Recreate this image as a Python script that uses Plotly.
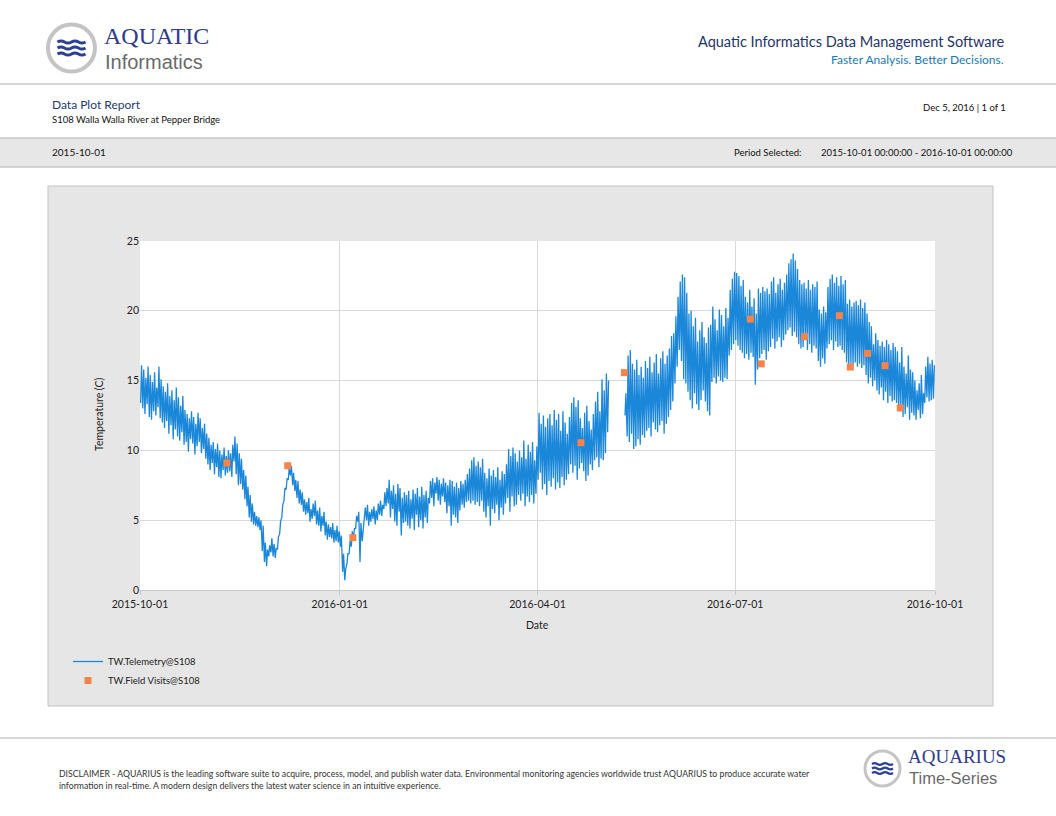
import pandas as pd
import plotly.graph_objects as go

W, H = 1056, 816


def fx(x):
    return x / W


def fy(y):
    return 1 - y / H


# daily low / high water temperature (C)
oct_low = [13.4, 13.0, 12.6, 13.3, 12.4, 12.2, 12.8, 12.5, 13.1, 12.3, 12.0, 11.6, 12.1, 11.2, 11.8, 10.8,
           11.5, 11.0, 10.7, 11.3, 10.4, 10.6, 9.9, 10.8, 10.5, 9.7, 10.3, 10.6, 9.8, 10.1, 9.4]
oct_high = [16.1, 15.8, 15.2, 16.0, 15.4, 14.9, 15.6, 14.5, 16.0, 15.1, 14.6, 14.2, 14.8, 13.9, 14.3, 13.6,
            14.5, 13.8, 13.2, 13.9, 12.9, 12.6, 12.3, 12.8, 12.4, 11.9, 12.7, 12.3, 11.6, 11.9, 11.2]
nov_low = [9.0, 8.6, 9.1, 8.3, 8.8, 8.1, 8.0, 8.6, 8.2, 8.4, 8.5, 8.1, 9.2, 8.3, 7.5, 7.6, 7.2, 6.5, 6.0, 5.2,
           4.9, 4.7, 4.6, 4.5, 4.3, 2.8, 2.0, 1.7, 2.4, 2.7]
nov_high = [10.9, 10.4, 10.6, 10.1, 10.5, 10.0, 9.7, 10.2, 9.6, 10.0, 9.8, 10.4, 11.0, 10.5, 9.8, 9.4, 8.6,
            8.2, 7.4, 6.8, 6.2, 5.6, 5.3, 5.2, 5.0, 4.6, 3.4, 2.9, 3.2, 3.7]
dec_low = [2.4, 2.3, 2.9, 4.0, 5.2, 6.4, 7.2, 7.9, 8.2, 7.5, 7.1, 6.6, 6.2, 6.1, 5.6, 5.4, 5.5, 4.9, 5.1, 5.3,
           4.7, 4.6, 4.2, 4.6, 3.9, 3.6, 3.8, 3.7, 3.4, 3.5, 3.4]
dec_high = [3.3, 3.0, 3.8, 4.9, 6.1, 7.3, 8.0, 8.8, 8.9, 8.4, 7.9, 7.8, 7.2, 7.0, 6.5, 6.3, 6.6, 5.8, 6.2, 6.4,
            5.7, 5.9, 5.3, 5.6, 4.9, 4.7, 4.5, 4.8, 4.3, 4.6, 4.2]
jan_low = [3.1, 1.3, 0.7, 1.9, 2.6, 3.1, 3.7, 4.4, 4.9, 2.0, 3.5, 4.8, 5.0, 4.6, 4.9, 5.1, 4.7, 5.0, 5.4, 5.3,
           5.8, 6.0, 6.2, 5.2, 5.8, 4.9, 4.6, 5.6, 3.9, 4.8, 4.9]
jan_high = [3.9, 2.6, 1.5, 2.6, 3.5, 4.2, 4.4, 5.3, 5.6, 4.8, 4.2, 5.9, 6.1, 5.6, 5.8, 6.0, 5.7, 6.2, 6.4, 6.1,
            7.0, 7.3, 7.9, 7.1, 7.5, 6.9, 7.6, 7.3, 6.6, 7.0, 6.8]
feb_low = [4.6, 4.4, 5.1, 4.3, 5.4, 4.5, 5.0, 4.4, 5.2, 4.8, 6.2, 6.6, 6.0, 6.9, 6.4, 6.1, 6.7, 6.3, 5.5, 6.0,
           4.6, 5.4, 5.2, 4.8, 5.7, 6.1, 5.9, 6.3, 6.4]
feb_high = [7.1, 6.5, 7.2, 6.9, 7.3, 6.7, 7.4, 6.8, 7.1, 6.6, 7.8, 8.0, 7.7, 8.1, 7.9, 7.6, 8.0, 7.7, 7.5, 7.9,
            7.8, 7.4, 7.7, 7.3, 7.8, 7.6, 7.9, 8.3, 8.7]
mar_low = [6.2, 6.4, 6.1, 6.3, 6.0, 6.4, 5.6, 5.2, 6.0, 4.6, 5.8, 5.5, 6.1, 5.0, 5.9, 5.4, 6.2, 6.6, 5.6, 6.7,
           6.0, 6.1, 6.8, 6.4, 6.9, 6.0, 6.7, 6.3, 6.8, 6.2, 6.9]
mar_high = [9.3, 9.5, 8.9, 9.2, 8.8, 9.4, 8.4, 8.0, 8.7, 8.2, 8.6, 8.1, 8.8, 7.9, 8.5, 8.3, 9.0, 10.1, 9.6,
            10.2, 9.8, 9.2, 10.0, 9.5, 10.7, 9.4, 10.4, 9.9, 10.6, 9.3, 10.3]
apr_low = [7.9, 8.4, 7.2, 7.6, 6.8, 7.8, 7.4, 8.0, 7.2, 7.7, 7.3, 8.1, 7.5, 7.9, 8.3, 9.0, 8.4, 8.9, 7.9, 8.7,
           9.1, 8.5, 7.8, 8.2, 9.0, 8.6, 9.3, 9.5, 8.8, 9.4]
apr_high = [12.7, 11.9, 12.5, 11.7, 12.3, 12.6, 11.8, 12.9, 12.2, 12.6, 11.4, 12.8, 12.0, 11.2, 12.4, 13.4,
            13.8, 13.1, 13.6, 12.3, 11.6, 12.7, 13.2, 12.1, 11.5, 12.6, 13.5, 14.2, 12.8, 15.1]
may_low = [9.3, 9.8, 11.3, None, None, None, None, None, None, None, 12.5, 11.0, 10.6, 11.2, 10.1, 10.3, 10.8,
           10.4, 11.1, 10.9, 11.4, 11.6, 11.0, 12.0, 11.5, 11.3, 11.8, 12.1, 11.2, 11.9, 12.4]
may_high = [14.3, 15.5, 15.0, None, None, None, None, None, None, None, 14.1, 16.8, 17.2, 16.2, 15.8, 16.5,
            15.4, 16.0, 15.2, 16.4, 15.9, 16.7, 15.6, 16.3, 16.9, 15.5, 16.6, 17.1, 16.2, 16.8, 17.3]
jun_low = [12.9, 13.5, 14.8, 16.0, 17.2, 16.4, 15.1, 14.8, 14.2, 13.6, 13.0, 14.1, 13.3, 12.9, 13.6, 14.3,
           13.5, 12.8, 12.5, 14.9, 15.2, 14.8, 15.3, 15.0, 14.9, 15.2, 15.1, 16.8, 17.2, 17.6]
jun_high = [18.2, 18.4, 19.6, 21.0, 22.1, 22.6, 22.4, 21.3, 19.8, 20.0, 18.9, 19.5, 17.8, 18.6, 19.2, 18.1,
            17.7, 18.8, 19.0, 20.3, 19.4, 18.6, 20.1, 19.7, 18.9, 20.2, 19.5, 21.5, 22.3, 22.8]
jul_low = [17.9, 17.5, 17.2, 17.0, 16.6, 16.9, 16.5, 17.0, 16.7, 14.7, 15.8, 16.6, 16.9, 17.2, 16.5, 17.1,
           17.4, 18.0, 17.3, 17.8, 18.1, 17.4, 17.9, 18.3, 18.6, 18.8, 18.2, 18.5, 18.1, 17.6, 17.3]
jul_high = [22.7, 22.5, 21.8, 22.2, 21.0, 20.6, 21.5, 20.3, 20.9, 19.8, 21.6, 21.3, 21.7, 21.4, 21.6, 21.2,
            22.1, 22.4, 21.3, 21.9, 22.3, 21.5, 22.0, 22.6, 23.4, 23.7, 24.1, 23.6, 23.0, 22.2, 21.9]
aug_low = [17.4, 17.9, 17.2, 17.6, 17.0, 17.5, 17.3, 16.4, 16.0, 16.6, 16.2, 17.3, 17.6, 17.9, 17.2, 17.8,
           17.4, 17.5, 17.2, 17.0, 16.3, 16.0, 16.2, 16.1, 16.3, 16.0, 16.2, 15.9, 16.1, 15.4, 14.8]
aug_high = [22.0, 21.6, 22.2, 21.5, 21.9, 21.7, 22.1, 20.1, 19.8, 20.3, 19.9, 21.7, 22.3, 22.6, 22.0, 22.4,
            21.8, 22.5, 21.9, 22.2, 20.5, 20.8, 20.3, 20.6, 20.7, 20.4, 20.8, 20.2, 20.6, 19.8, 19.2]
sep_low = [15.2, 14.6, 15.0, 14.3, 14.0, 14.5, 13.6, 14.2, 13.4, 13.9, 13.5, 13.6, 13.4, 12.8, 13.2, 12.4,
           12.6, 13.1, 12.2, 12.7, 12.5, 12.2, 12.9, 12.3, 12.6, 13.4, 13.8, 13.5, 13.6, 13.7]
sep_high = [18.9, 17.6, 18.4, 17.9, 17.5, 17.8, 17.4, 17.9, 17.6, 17.2, 17.7, 17.4, 17.1, 16.3, 17.4, 16.0,
            15.5, 16.8, 15.8, 15.6, 15.0, 14.3, 14.8, 15.4, 14.1, 16.0, 16.7, 16.2, 16.5, 16.1]

visit_dates = ["2015-11-10", "2015-12-08", "2016-01-07", "2016-04-21", "2016-05-11", "2016-07-08",
               "2016-07-13", "2016-08-02", "2016-08-18", "2016-08-23", "2016-08-31", "2016-09-08",
               "2016-09-15"]
visit_values = [9.1, 8.9, 3.75, 10.55, 15.57, 19.4, 16.2, 18.15, 19.65, 15.97, 16.95, 16.07, 13.04]

x_ticks = ["2015-10-01", "2016-01-01", "2016-04-01", "2016-07-01", "2016-10-01"]
y_ticks = [0, 5, 10, 15, 20, 25]

daily_low = (oct_low + nov_low + dec_low + jan_low + feb_low + mar_low + apr_low + may_low + jun_low
             + jul_low + aug_low + sep_low)
daily_high = (oct_high + nov_high + dec_high + jan_high + feb_high + mar_high + apr_high + may_high
              + jun_high + jul_high + aug_high + sep_high)
days = pd.date_range("2015-10-01", "2016-09-30", freq="D")
assert len(daily_low) == len(days) == len(daily_high), (len(daily_low), len(daily_high), len(days))

tele_x, tele_y = [], []
for d, lo, hi in zip(days, daily_low, daily_high):
    tele_x += [d + pd.Timedelta(hours=7), d + pd.Timedelta(hours=17)]
    tele_y += [lo, hi]

FONT = "Lato"
BLUE = "#1b87d9"
ORANGE = "#f5834a"

fig = go.Figure()
fig.add_trace(go.Scatter(x=tele_x, y=tele_y, mode="lines", name="TW.Telemetry@S108",
                         line=dict(color=BLUE, width=1.3), connectgaps=False))
fig.add_trace(go.Scatter(x=visit_dates, y=visit_values, mode="markers", name="TW.Field Visits@S108",
                         marker=dict(color=ORANGE, symbol="square", size=7)))

shapes = []


def rect(x0, y0, x1, y1, fill, line="rgba(0,0,0,0)", lw=1):
    shapes.append(dict(type="rect", xref="paper", yref="paper", x0=fx(x0), x1=fx(x1), y0=fy(y1), y1=fy(y0),
                       fillcolor=fill, line=dict(color=line, width=lw), layer="below"))


def hline(y, x0=0, x1=W, color="#c8c8c8", lw=1.5):
    shapes.append(dict(type="line", xref="paper", yref="paper", x0=fx(x0), x1=fx(x1), y0=fy(y), y1=fy(y),
                       line=dict(color=color, width=lw), layer="below"))


def logo(cx, cy, r, scale):
    shapes.append(dict(type="circle", xref="paper", yref="paper", x0=fx(cx - r), x1=fx(cx + r),
                       y0=fy(cy + r), y1=fy(cy - r), fillcolor="white",
                       line=dict(color="#c4c4c4", width=4 * scale), layer="below"))
    half = 14 * scale
    step = half / 2
    for off in (-6, 0, 6):
        yc = cy + off * scale
        a = 2.2 * scale
        x0 = cx - half
        p = f"M {fx(x0)},{fy(yc)} Q {fx(x0 + step / 2)},{fy(yc - a)} {fx(x0 + step)},{fy(yc)}"
        for k in range(2, 5):
            p += f" T {fx(x0 + step * k)},{fy(yc)}"
        shapes.append(dict(type="path", xref="paper", yref="paper", path=p,
                           line=dict(color="#2b3f99", width=3 * scale), layer="below"))


# page furniture
hline(84)
rect(-2, 138, W + 2, 167, "#e7e7e7", "#c8c8c8", 1.5)
rect(48, 186, 993, 706, "#e6e6e6", "#c2c2c2", 1)
rect(140, 241, 935, 590, "white")
hline(738)
logo(71.5, 48, 23.5, 1.0)
logo(882.5, 768.5, 17.5, 0.75)

ann = []


def text(x, y, s, size, color="#222", anchor="left", family=FONT, valign="middle", **kw):
    ann.append(dict(x=fx(x), y=fy(y), xref="paper", yref="paper", text=s, showarrow=False,
                    xanchor=anchor, yanchor=valign, font=dict(size=size, color=color, family=family), **kw))


# logo wordmarks: top word sits on the split line, bottom word hangs from it
text(103, 49.5, "AQUATIC", 24, "#2e3c8e", family="Liberation Serif", valign="bottom", borderpad=0)
text(104, 49.5, "Informatics", 20, "#6a6a6a", family="Liberation Sans", valign="top", borderpad=0)
text(907, 768, "AQUARIUS", 19, "#2e3c8e", family="Liberation Serif", valign="bottom", borderpad=0)
text(908, 768, "Time-Series", 16.5, "#6a6a6a", family="Liberation Sans", valign="top", borderpad=0)

text(1006, 41, "Aquatic Informatics Data Management Software", 14.5, "#24356a", "right")
text(1006, 60, "Faster Analysis. Better Decisions.", 12, "#1a78b4", "right")
text(50, 104, "Data Plot Report", 12, "#1e3a70")
text(50, 119, "S108 Walla Walla River at Pepper Bridge", 9.5, "#111")
text(1008, 108, "Dec 5, 2016 | 1 of 1", 9.5, "#111", "right")
text(50, 152, "2015-10-01", 10, "#111")
text(803, 152, "Period Selected:", 9.5, "#111", "right")
text(1015, 152, "2015-10-01 00:00:00 - 2016-10-01 00:00:00", 9.5, "#111", "right")
text(537, 625, "Date", 10.5, "#222", "center")
text(99, 415, "Temperature (C)", 10.5, "#222", "center", textangle=-90)
text(57, 773, "DISCLAIMER - AQUARIUS is the leading software suite to acquire, process, model, and publish water "
     "data. Environmental monitoring agencies worldwide trust AQUARIUS to produce accurate water", 8.7, "#333")
text(57, 785, "information in real-time. A modern design delivers the latest water science in an intuitive "
     "experience.", 8.7, "#333")

fig.update_layout(
    width=W, height=H,
    margin=dict(l=0, r=0, t=0, b=0),
    paper_bgcolor="white",
    plot_bgcolor="rgba(0,0,0,0)",
    font=dict(family=FONT, size=10, color="#222"),
    shapes=shapes,
    annotations=ann,
    xaxis=dict(domain=[fx(140), fx(935)], type="date", range=["2015-10-01", "2016-10-01"],
               tickvals=x_ticks, ticktext=x_ticks, showgrid=True, gridcolor="#d9d9d9", gridwidth=1,
               showline=True, linecolor="#c8c8c8", ticks="outside", ticklen=4, tickcolor="#c8c8c8",
               zeroline=False, tickfont=dict(size=10.5, color="#222"), automargin=False),
    yaxis=dict(domain=[fy(590), fy(241)], range=[0, 25], tickvals=y_ticks, showgrid=True,
               gridcolor="#d9d9d9", gridwidth=1, zeroline=False, showline=False, ticks="",
               tickfont=dict(size=10.5, color="#222"), automargin=False),
    showlegend=True,
    legend=dict(x=fx(68), y=fy(647), xanchor="left", yanchor="top", bgcolor="rgba(0,0,0,0)",
                font=dict(size=9.5, color="#222"), itemwidth=30, tracegroupgap=0),
)

fig.write_html("out.html", config={"displayModeBar": False},
               post_script="document.body.style.margin='0';document.body.style.overflow='hidden';")
